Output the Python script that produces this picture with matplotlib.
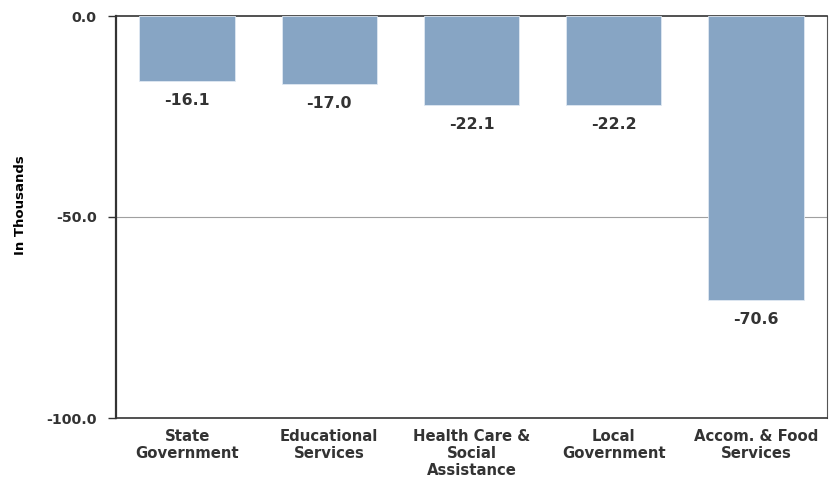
import matplotlib
matplotlib.use("Agg")
import matplotlib.pyplot as plt

categories = ["State\nGovernment", "Educational\nServices", "Health Care &\nSocial\nAssistance",
              "Local\nGovernment", "Accom. & Food\nServices"]
values = [-16.1, -17.0, -22.1, -22.2, -70.6]

plt.rcParams['font.family'] = ['DejaVu Sans']
txt = '#333333'

fig = plt.figure(figsize=(8.34, 4.78), dpi=100)
ax = fig.add_axes([116 / 834, 1 - 418 / 478, (827 - 116) / 834, (418 - 16) / 478])

x = list(range(len(values)))
ax.bar(x, values, width=0.67, color='#87a5c4', edgecolor='#dfe8f2', linewidth=0.6, zorder=3)
for xi, v in zip(x, values):
    ax.text(xi, v - 3.0, f"{v:.1f}", ha='center', va='top', fontsize=11.3,
            fontweight='bold', color=txt)

ax.set_xlim(-0.5, len(values) - 0.5)
ax.set_ylim(-100, 0)
ax.set_yticks([0, -50, -100])
ax.set_yticklabels(["0.0", "-50.0", "-100.0"], fontsize=10.2, fontweight='bold', color=txt)
ax.axhline(-50, color='#a0a0a0', linewidth=0.8, zorder=1)
ax.set_xticks(x)
ax.set_xticklabels(categories, fontsize=10.7, fontweight='bold', color=txt, linespacing=1.15)
ax.tick_params(axis='x', length=0, pad=8)
ax.tick_params(axis='y', length=6, width=1, color='#333333', pad=8)
ax.set_ylabel("In Thousands", fontsize=9.5, fontweight='bold', color='black')
ax.yaxis.set_label_coords(-0.125, 0.53)

ax.spines['left'].set_linewidth(1.6)
ax.spines['left'].set_color('#333333')
ax.spines['bottom'].set_linewidth(1.2)
ax.spines['bottom'].set_color('#333333')
ax.spines['top'].set_linewidth(1.2)
ax.spines['top'].set_color('#333333')
ax.spines['right'].set_linewidth(0.8)
ax.spines['right'].set_color('#555555')

fig.savefig("out.png", dpi=100)
